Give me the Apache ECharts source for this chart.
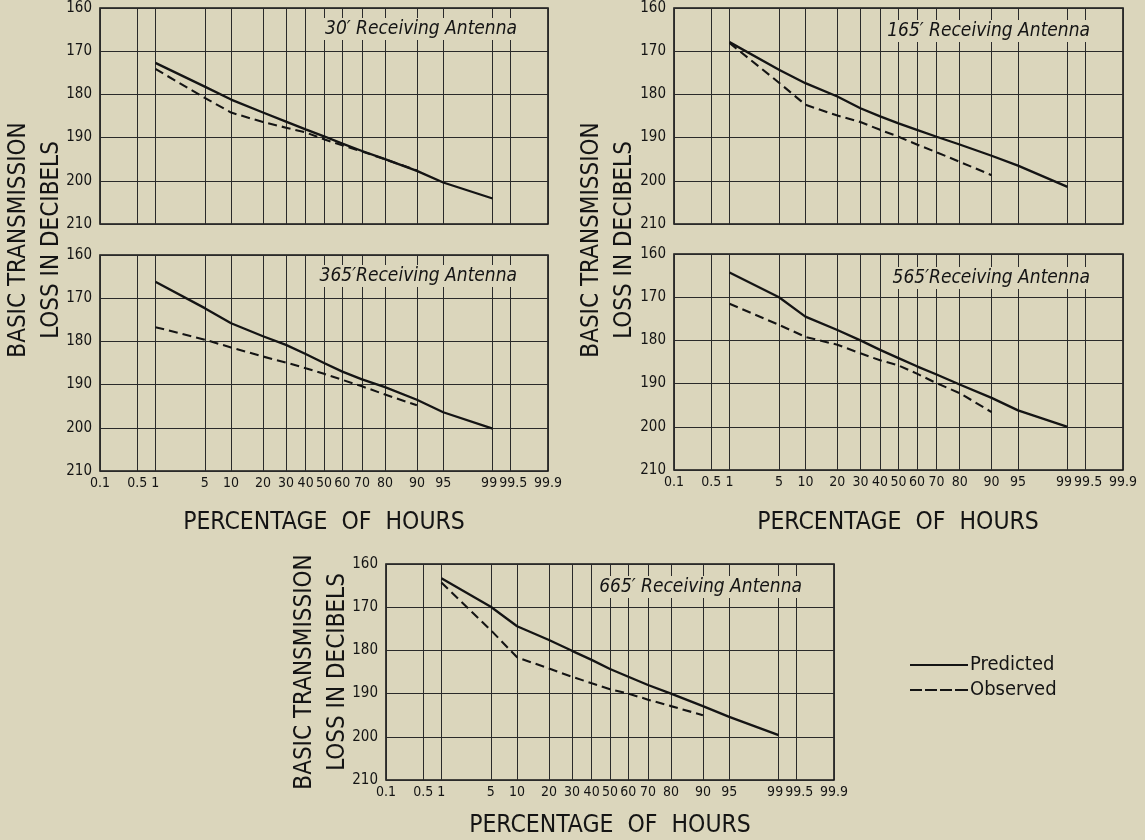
<!DOCTYPE html>
<html><head><meta charset="utf-8">
<script src="https://cdn.jsdelivr.net/npm/echarts@6/dist/echarts.min.js"></script>
<style>html,body{margin:0;padding:0;background:#dbd6bc}#c{width:1145px;height:840px}</style>
</head><body><div id="c"></div><script>
// ---------- data ----------
const PCT_PRED = [1, 5, 10, 20, 30, 40, 50, 60, 70, 80, 90, 95, 99];
const PCT_OBS  = [1, 5, 10, 20, 30, 40, 50, 60, 70, 80, 90];
const TICK_PCT = [0.1, 0.5, 1, 5, 10, 20, 30, 40, 50, 60, 70, 80, 90, 95, 99, 99.5, 99.9];
const TICK_LABELS = ['0.1','0.5','1','5','10','20','30','40','50','60','70','80','90','95','99','99.5','99.9'];
const Y_MIN = 160, Y_MAX = 210, Y_STEP = 10;
const PANEL_TITLES = ['30\u2032 Receiving Antenna', '165\u2032 Receiving Antenna', '365\u2032Receiving Antenna', '565\u2032Receiving Antenna', '665\u2032 Receiving Antenna'];
const pred30  = [172.7, 178.2, 181.2, 184.2, 186.3, 188.1, 189.7, 191.4, 193.1, 195.0, 197.7, 200.4, 204.1];
const obs30   = [174.1, 180.8, 184.2, 186.4, 187.7, 188.8, 190.4, 191.8, 193.2, 195.0, 197.6];
const pred165 = [167.9, 174.3, 177.4, 180.5, 183.2, 185.1, 186.7, 188.2, 189.8, 191.6, 194.2, 196.5, 201.4];
const obs165  = [168.1, 177.3, 182.4, 184.9, 186.4, 188.2, 189.8, 191.6, 193.4, 195.6, 198.7];
const pred365 = [166.2, 172.3, 175.8, 178.8, 180.8, 182.9, 185.0, 187.0, 188.8, 190.6, 193.5, 196.4, 200.2];
const obs365  = [176.7, 179.6, 181.4, 183.5, 184.9, 186.2, 187.5, 188.9, 190.4, 192.3, 194.8];
const pred565 = [164.3, 170.0, 174.5, 177.6, 180.0, 182.2, 184.1, 186.0, 187.9, 190.2, 193.3, 196.2, 200.0];
const obs565  = [171.5, 176.4, 179.2, 181.0, 183.0, 184.6, 185.8, 187.7, 189.9, 192.2, 196.6];
const pred665 = [163.3, 169.9, 174.4, 177.6, 180.1, 182.2, 184.3, 186.1, 188.0, 190.0, 192.9, 195.4, 199.6];
const obs665  = [164.3, 175.3, 181.6, 184.2, 186.1, 187.6, 189.0, 190.0, 191.4, 192.9, 195.0];
const SERIES_NAMES = ['Predicted', 'Observed'];
const Y_TITLE = 'BASIC TRANSMISSION\nLOSS IN DECIBELS';
const X_TITLE = 'PERCENTAGE  OF  HOURS';

// ---------- normal probability scale ----------
function probit(p){
  const a=[-3.969683028665376e+01,2.209460984245205e+02,-2.759285104469687e+02,1.383577518672690e+02,-3.066479806614716e+01,2.506628277459239e+00];
  const b=[-5.447609879822406e+01,1.615858368580409e+02,-1.556989798598866e+02,6.680131188771972e+01,-1.328068155288572e+01];
  const c=[-7.784894002430293e-03,-3.223964580411365e-01,-2.400758277161838e+00,-2.549732539343734e+00,4.374664141464968e+00,2.938163982698783e+00];
  const d=[7.784695709041462e-03,3.224671290700398e-01,2.445134137142996e+00,3.754408661907416e+00];
  const pl=0.02425, ph=1-pl; let q,r;
  if(p<pl){q=Math.sqrt(-2*Math.log(p));return (((((c[0]*q+c[1])*q+c[2])*q+c[3])*q+c[4])*q+c[5])/((((d[0]*q+d[1])*q+d[2])*q+d[3])*q+1);}
  if(p<=ph){q=p-0.5;r=q*q;return (((((a[0]*r+a[1])*r+a[2])*r+a[3])*r+a[4])*r+a[5])*q/(((((b[0]*r+b[1])*r+b[2])*r+b[3])*r+b[4])*r+1);}
  q=Math.sqrt(-2*Math.log(1-p));return -(((((c[0]*q+c[1])*q+c[2])*q+c[3])*q+c[4])*q+c[5])/((((d[0]*q+d[1])*q+d[2])*q+d[3])*q+1);
}
const TICK_Z = TICK_PCT.map(p => probit(p/100));
const TICK_Z_A = TICK_Z.filter((z,i)=>i%2===0);
const TICK_Z_B = TICK_Z.filter((z,i)=>i%2===1);
function tickLabel(v){
  for (let i=0;i<TICK_Z.length;i++) if (Math.abs(TICK_Z[i]-v) < 1e-6) {
    const t = TICK_LABELS[i];
    if (t === '99') return '{l|' + t + '}';
    if (t === '99.5') return '{r|' + t + '}';
    return t;
  }
  return '';
}

// ---------- layout / style ----------
const BG = '#dbd6bc', INK = '#141414', GRIDC = '#2a2a2a';
const FONT = '"Liberation Sans Narrow", "DejaVu Sans Condensed", "Liberation Sans", sans-serif';
const panels = [
  {left:100, top:8,   width:448, height:216, showX:false, pred:pred30,  obs:obs30,  tTop:18,  tRight:625},
  {left:674, top:8,   width:449, height:216, showX:false, pred:pred165, obs:obs165, tTop:20,  tRight:52},
  {left:100, top:255, width:448, height:216, showX:true,  pred:pred365, obs:obs365, tTop:265, tRight:625},
  {left:674, top:254, width:449, height:216, showX:true,  pred:pred565, obs:obs565, tTop:267, tRight:52},
  {left:386, top:564, width:448, height:216, showX:true,  pred:pred665, obs:obs665, tTop:576, tRight:340}
];

const grid=[], xAxis=[], yAxis=[], series=[], title=[];
const EPS = 1e-7;
const XMIN = TICK_Z[0] - EPS, XMAX = TICK_Z[TICK_Z.length-1] + EPS;
const LBL = {color:INK, fontFamily:FONT, fontSize:14};
function xLabelStyle(show, vals){
  return Object.assign({show:show, customValues:vals, formatter:tickLabel, margin:5,
    showMinLabel:true, showMaxLabel:true, hideOverlap:false,
    rich:{l:Object.assign({padding:[0,7,0,0]}, LBL), r:Object.assign({padding:[0,0,0,5]}, LBL)}}, LBL);
}
panels.forEach((pn,i)=>{
  grid.push({left:pn.left, top:pn.top, width:pn.width, height:pn.height, show:true,
    borderColor:INK, borderWidth:1.6, backgroundColor:'transparent'});
  xAxis.push({type:'value', gridIndex:i, position:'bottom', min:XMIN, max:XMAX,
    axisLine:{show:false}, axisTick:{show:false, customValues:TICK_Z},
    axisLabel:xLabelStyle(pn.showX, TICK_Z_A),
    splitLine:{show:true, lineStyle:{color:GRIDC, width:1}}});
  xAxis.push({type:'value', gridIndex:i, position:'bottom', offset:0, min:XMIN, max:XMAX,
    axisLine:{show:false}, axisTick:{show:false, customValues:TICK_Z_B},
    axisLabel:xLabelStyle(pn.showX, TICK_Z_B),
    splitLine:{show:false}});
  yAxis.push({type:'value', gridIndex:i, min:Y_MIN, max:Y_MAX, interval:Y_STEP, inverse:true,
    axisLine:{show:false}, axisTick:{show:false},
    axisLabel:{color:INK, fontFamily:FONT, fontSize:15, margin:8},
    splitLine:{show:true, lineStyle:{color:GRIDC, width:1.1}}});
  series.push({type:'line', name:SERIES_NAMES[0], xAxisIndex:2*i, yAxisIndex:i, symbol:'none', silent:true,
    data:PCT_PRED.map((p,j)=>[probit(p/100), pn.pred[j]]),
    lineStyle:{color:INK, width:2.3}, itemStyle:{color:INK}, z:5});
  series.push({type:'line', name:SERIES_NAMES[1], xAxisIndex:2*i, yAxisIndex:i, symbol:'none', silent:true,
    data:PCT_OBS.map((p,j)=>[probit(p/100), pn.obs[j]]),
    lineStyle:{color:INK, width:2.1, type:[9,5]}, itemStyle:{color:INK}, z:5});
  title.push({text:PANEL_TITLES[i], right:pn.tRight, top:pn.tTop, padding:[1,3], backgroundColor:BG,
    textStyle:{fontStyle:'italic', fontWeight:'normal', fontFamily:FONT, fontSize:19, lineHeight:20, color:INK}});
});

function vText(x,y){
  return {type:'text', x:x, y:y, rotation:Math.PI/2, silent:true,
    style:{text:Y_TITLE, fontFamily:FONT, fontSize:24, lineHeight:33, fill:INK,
      align:'center', verticalAlign:'middle', textAlign:'center', textVerticalAlign:'middle'}};
}
function hText(x,y){
  return {type:'text', x:x, y:y, silent:true,
    style:{text:X_TITLE, fontFamily:FONT, fontSize:24.5, fill:INK,
      align:'center', verticalAlign:'middle', textAlign:'center', textVerticalAlign:'middle'}};
}

const chart = echarts.init(document.getElementById('c'), null, {renderer:'canvas'});
chart.setOption({
  backgroundColor:BG, animation:false,
  grid, xAxis, yAxis, series, title,
  legend:{orient:'vertical', left:905, top:650, itemWidth:58, itemHeight:2, itemGap:5, symbolKeepAspect:true,
    data:[
      {name:SERIES_NAMES[0], icon:'path://M0,0H58V2H0Z'},
      {name:SERIES_NAMES[1], icon:'path://M0,0H12V2H0Z M15,0H27V2H15Z M30,0H42V2H30Z M45,0H58V2H45Z'}
    ],
    itemStyle:{color:INK, borderWidth:0},
    textStyle:{color:INK, fontFamily:FONT, fontSize:20, lineHeight:20, padding:[0,0,0,-3]}, selectedMode:false},
  graphic:[vText(35,240), vText(608,240), vText(321,672),
           hText(324,523), hText(898,523), hText(610,826)]
});
</script></body></html>
